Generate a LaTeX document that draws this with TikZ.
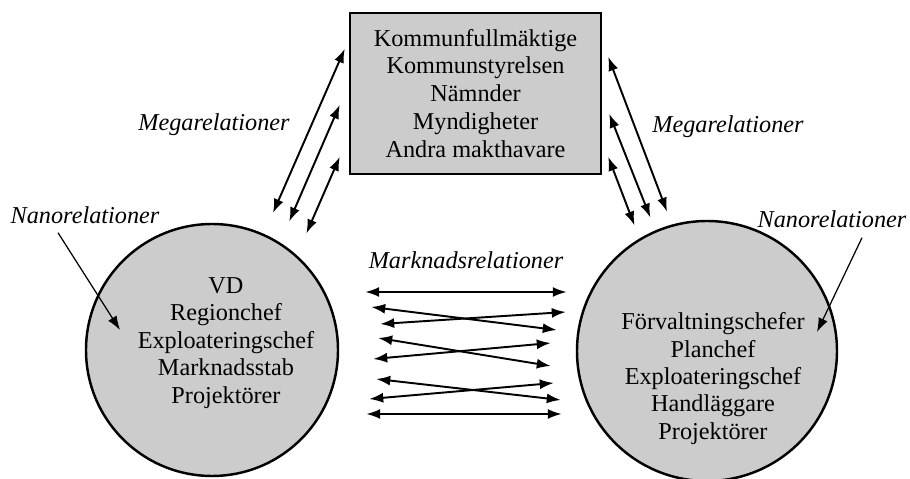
\documentclass[tikz,border=0pt]{standalone}
\usepackage{fontspec}
\setmainfont{Liberation Serif}
\usetikzlibrary{arrows.meta}
\usetikzlibrary{calc}

\begin{document}
\begin{tikzpicture}
	\tikzset{org/.style={
		draw=black, line width=1.4pt, fill=black!20
	}}
	\tikzset{orgbox/.style={
		org, rectangle, minimum width=5.02cm, minimum height=3.22cm, align=center,
		font=\fontsize{13.8}{15.9}\selectfont
	}}
	\tikzset{orgcircle/.style={
		org, circle, inner sep=0pt
	}}
	\tikzset{members/.style={
		align=center, font=\fontsize{13.8}{15.6}\selectfont
	}}
	\tikzset{caption/.style={
		font=\fontsize{13.8}{15.6}\selectfont\itshape
	}}
	\tikzset{conn/.style={
		{Latex[length=2.8mm,width=2mm]}-{Latex[length=2.8mm,width=2mm]}, line width=1.1pt
	}}
	\tikzset{pointer/.style={
		-{Latex[length=2.8mm,width=2mm]}, line width=0.7pt
	}}

	\useasboundingbox (0,0) rectangle (18.2,9.58);

	% Makthavare
	\node (Power) [orgbox] at (9.51,7.71)
		{Kommunfullmäktige\\Kommunstyrelsen\\Nämnder\\Myndigheter\\Andra makthavare}
		% In/outputs links
		coordinate [shift={(-0.08,-0.74)}] (Power_l1) at (Power.north west) % oben
		coordinate [shift={(-0.18,-1.86)}] (Power_l2) at (Power.north west) % mitte
		coordinate [shift={(-0.18,-2.90)}] (Power_l3) at (Power.north west) % unten
		% In/outputs rechts
		coordinate [shift={(0.12,-0.90)}] (Power_r1) at (Power.north east) % oben
		coordinate [shift={(0.14,-2.04)}] (Power_r2) at (Power.north east) % mitte
		coordinate [shift={(0.12,-2.90)}] (Power_r3) at (Power.north east) % unten
	;

	% Byggherre
	\node (Developer) [orgcircle, minimum size=5.04cm] at (4.24,2.58) {};
	\node (Developer_staff) [members] at ([shift={(0.28,0.14)}] Developer.center)
		{VD\\Regionchef\\Exploateringschef\\Marknadsstab\\Projektörer};

	% Kommun
	\node (Municipality) [orgcircle, minimum size=5.2cm] at (14.14,2.56) {};
	\node (Municipality_staff) [members] at ([shift={(0.12,-0.55)}] Municipality.center)
		{Förvaltningschefer\\Planchef\\Exploateringschef\\Handläggare\\Projektörer};

	% Captions
	\node (Mega_left)  [caption] at (4.28,7.08)  {Megarelationer};
	\node (Mega_right) [caption] at (14.56,7.04) {Megarelationer};
	\node (Nano_left)  [caption] at (1.70,5.28)  {Nanorelationer};
	\node (Nano_right) [caption] at (16.64,5.20) {Nanorelationer};
	\node (Market)     [caption] at (9.32,4.38)  {Marknadsrelationer};

	% Power <-> Developer
	\draw[conn] (Power_l1) -- ($(Developer.center)+(66:3.0)$);
	\draw[conn] (Power_l2) -- ($(Developer.center)+(59:3.0)$);
	\draw[conn] (Power_l3) -- ($(Developer.center)+(51:3.0)$);

	% Power <-> Municipality
	\draw[conn] (Power_r1) -- ($(Municipality.center)+(106:2.9)$);
	\draw[conn] (Power_r2) -- ($(Municipality.center)+(113:2.9)$);
	\draw[conn] (Power_r3) -- ($(Municipality.center)+(120:2.9)$);

	% Developer <-> Municipality
	\foreach \la/\lb/\ra/\rb in {0.52/1.16/-0.18/1.18, 0.64/0.86/-0.38/0.42,
		0.82/0.52/-0.20/0.78, 0.78/0.24/-0.50/-0.30, 0.68/-0.18/-0.50/0.16,
		0.74/-0.58/-0.30/-0.98, 0.60/-0.98/-0.44/-0.64, 0.54/-1.28/-0.28/-1.26}
		\draw[conn] ($(Developer.east)+(\la,\lb)$) -- ($(Municipality.west)+(\ra,\rb)$);

	% Nano
	\draw[pointer] ([shift={(-0.54,-0.06)}] Nano_left.south) -- ($(Developer.center)+(-1.84,0.40)$);
	\draw[pointer] ([shift={(0.60,-0.08)}] Nano_right.south) -- ($(Municipality.center)+(2.20,0.38)$);
\end{tikzpicture}
\end{document}
